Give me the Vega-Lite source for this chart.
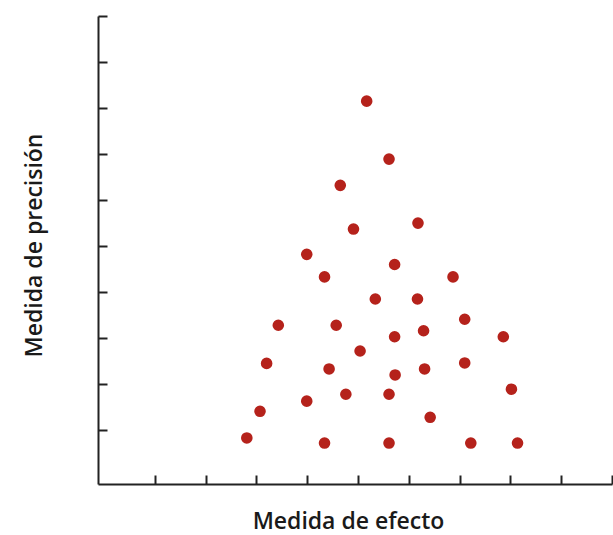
{
  "$schema": "https://vega.github.io/schema/vega-lite/v6.json",
  "width": 514,
  "height": 468,
  "autosize": {"type": "none"},
  "padding": {"left": 98, "top": 16, "right": 1, "bottom": 51},
  "background": "white",
  "config": {
    "view": {"stroke": null},
    "font": "Open Sans",
    "axis": {
      "grid": false,
      "labels": false,
      "domainColor": "#222222",
      "domainWidth": 2,
      "tickColor": "#222222",
      "tickWidth": 2,
      "tickSize": -9,
      "titleFont": "Open Sans",
      "titleFontSize": 23,
      "titleFontWeight": 600,
      "titleColor": "#1a1a1a"
    }
  },
  "data": {
    "values": [
      {"efecto": 5.17, "precision": 8.15},
      {"efecto": 5.61, "precision": 6.89},
      {"efecto": 4.65, "precision": 6.32},
      {"efecto": 6.18, "precision": 5.50},
      {"efecto": 4.91, "precision": 5.37},
      {"efecto": 3.99, "precision": 4.82},
      {"efecto": 5.72, "precision": 4.60},
      {"efecto": 4.34, "precision": 4.33},
      {"efecto": 6.87, "precision": 4.33},
      {"efecto": 5.34, "precision": 3.85},
      {"efecto": 6.17, "precision": 3.85},
      {"efecto": 7.10, "precision": 3.41},
      {"efecto": 3.43, "precision": 3.28},
      {"efecto": 4.57, "precision": 3.28},
      {"efecto": 6.29, "precision": 3.16},
      {"efecto": 5.72, "precision": 3.03},
      {"efecto": 7.86, "precision": 3.03},
      {"efecto": 5.04, "precision": 2.72},
      {"efecto": 3.20, "precision": 2.45},
      {"efecto": 7.10, "precision": 2.46},
      {"efecto": 4.43, "precision": 2.33},
      {"efecto": 6.31, "precision": 2.33},
      {"efecto": 5.73, "precision": 2.20},
      {"efecto": 8.02, "precision": 1.89},
      {"efecto": 4.76, "precision": 1.78},
      {"efecto": 5.61, "precision": 1.78},
      {"efecto": 3.99, "precision": 1.63},
      {"efecto": 3.07, "precision": 1.41},
      {"efecto": 6.42, "precision": 1.28},
      {"efecto": 2.81, "precision": 0.83},
      {"efecto": 4.34, "precision": 0.72},
      {"efecto": 5.61, "precision": 0.72},
      {"efecto": 7.22, "precision": 0.72},
      {"efecto": 8.14, "precision": 0.72}
    ]
  },
  "mark": {"type": "circle", "size": 135, "color": "#b5221b", "opacity": 1},
  "encoding": {
    "x": {
      "field": "efecto",
      "type": "quantitative",
      "title": "Medida de efecto",
      "scale": {"domain": [-0.12, 10], "nice": false, "zero": false},
      "axis": {"values": [1, 2, 3, 4, 5, 6, 7, 8, 9, 10], "titlePadding": 25, "titleX": 250, "titleAlign": "center"}
    },
    "y": {
      "field": "precision",
      "type": "quantitative",
      "title": "Medida de precisión",
      "scale": {"domain": [-0.17, 10], "nice": false, "zero": false},
      "axis": {"values": [1, 2, 3, 4, 5, 6, 7, 8, 9, 10], "titlePadding": 51, "titleY": 229, "titleAlign": "center"}
    }
  }
}
